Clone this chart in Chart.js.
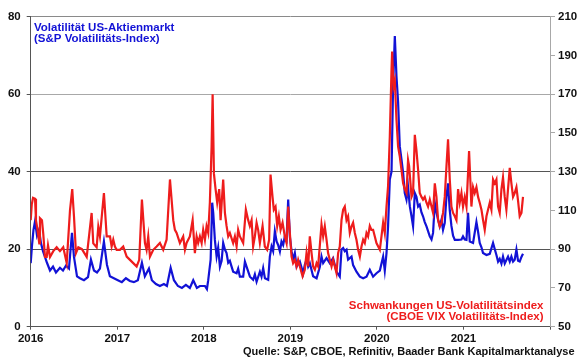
<!DOCTYPE html>
<html><head><meta charset="utf-8">
<script src="https://cdn.jsdelivr.net/npm/chart.js@4/dist/chart.umd.min.js"></script>
<style>html,body{margin:0;padding:0;background:#fff}canvas{display:block}</style>
</head><body>
<canvas id="c" width="580" height="359"></canvas>
<script>
const yearTicks = [2016, 2017, 2018, 2019, 2020, 2021];
const leftTicks = [0, 20, 40, 60, 80];
const rightTicks = [50, 70, 90, 110, 130, 150, 170, 190, 210];

// S&P Volatility Index (VIX) - left axis
const vixDates = [2016.000,2016.015,2016.032,2016.050,2016.073,2016.096,2016.119,2016.142,2016.188,2016.223,2016.258,2016.292,2016.338,2016.373,2016.408,2016.442,2016.477,2016.500,2016.535,2016.569,2016.615,2016.662,2016.696,2016.731,2016.766,2016.800,2016.846,2016.881,2016.915,2016.961,2017.007,2017.053,2017.100,2017.146,2017.192,2017.238,2017.285,2017.319,2017.366,2017.400,2017.447,2017.493,2017.539,2017.574,2017.617,2017.655,2017.701,2017.747,2017.793,2017.839,2017.878,2017.920,2017.955,2018.013,2018.036,2018.051,2018.079,2018.097,2018.109,2018.128,2018.148,2018.166,2018.186,2018.206,2018.224,2018.244,2018.263,2018.282,2018.301,2018.321,2018.339,2018.379,2018.397,2018.417,2018.455,2018.475,2018.494,2018.533,2018.570,2018.590,2018.610,2018.648,2018.667,2018.686,2018.706,2018.744,2018.763,2018.783,2018.801,2018.821,2018.841,2018.859,2018.879,2018.898,2018.917,2018.936,2018.956,2018.975,2018.994,2019.014,2019.032,2019.052,2019.072,2019.110,2019.148,2019.167,2019.187,2019.206,2019.225,2019.263,2019.303,2019.341,2019.360,2019.379,2019.418,2019.456,2019.494,2019.533,2019.571,2019.591,2019.610,2019.629,2019.649,2019.667,2019.707,2019.725,2019.764,2019.803,2019.841,2019.880,2019.918,2019.956,2019.995,2020.034,2020.072,2020.091,2020.111,2020.129,2020.149,2020.169,2020.187,2020.207,2020.226,2020.245,2020.264,2020.284,2020.303,2020.322,2020.342,2020.360,2020.380,2020.400,2020.418,2020.438,2020.457,2020.476,2020.495,2020.515,2020.533,2020.553,2020.573,2020.611,2020.631,2020.649,2020.669,2020.688,2020.707,2020.726,2020.746,2020.764,2020.784,2020.804,2020.822,2020.842,2020.861,2020.880,2020.900,2020.938,2020.977,2020.995,2021.015,2021.035,2021.053,2021.073,2021.111,2021.150,2021.169,2021.188,2021.208,2021.226,2021.266,2021.304,2021.342,2021.362,2021.381,2021.400,2021.419,2021.439,2021.457,2021.477,2021.496,2021.515,2021.535,2021.554,2021.573,2021.592,2021.612,2021.631,2021.650,2021.670,2021.688];
const vixValues = [16.4,21,25,27.2,23.5,25,21.5,19.5,16.5,14.5,15.5,14,15.2,14.5,15.8,15,24.2,18,13,12.5,12,12.8,17.3,14.5,14,15,22,16,13,12.5,12,11.5,12.5,11.8,11.5,12,16.5,13,15,12,11,10.5,11,10.5,15.2,12,10.5,10,10.8,10,12,10,10.5,10.5,9.7,12,17.3,32,29.4,22.4,18.1,20.4,15.5,17,21.6,19.9,19,16.5,17,15.5,14.2,13.8,15,12.9,12.9,16.8,15.5,12.9,12.1,13.5,11.6,14.2,12.9,15.1,12.5,12.1,18.1,20.7,19.5,24.6,22,21.1,19.4,22,21.1,23.3,22.4,32.8,23.3,19.5,17.3,19,15.5,16.8,13.8,16,17.3,15.5,16.4,13,12.5,15.5,18.1,16.4,17.7,16.4,17.7,14.2,12.9,19.9,20.3,19.5,19.9,17.3,18.1,15.9,14.2,12.9,12.5,12.9,14.7,12.9,13.8,14.5,18.1,14.5,19,25.9,38,40,62,75,64.7,57.9,46.6,43.2,39.7,34.5,32.8,36,31.1,28.5,25.9,34.5,33.5,31,31.5,29.5,28.5,27,25.9,23.3,22.5,24.2,32,29.5,27.6,25.9,27.6,25,26.8,33.7,37,30,26,23.5,22.4,22.4,22.5,23.3,22.5,22.4,29.4,22,21.6,27,24.5,21.6,20.5,19,18.5,18.8,21.6,20,18.5,16.8,17.5,16.3,18.1,16.3,17.2,18.1,16.8,18.1,16.8,17.3,19.9,17,16.8,18,18.8];

// CBOE VIX Volatility Index (VVIX) - right axis
const vvixDates = [2016.000,2016.012,2016.027,2016.050,2016.061,2016.079,2016.099,2016.107,2016.130,2016.145,2016.165,2016.185,2016.200,2016.223,2016.261,2016.300,2016.338,2016.376,2016.416,2016.454,2016.480,2016.500,2016.523,2016.550,2016.592,2016.647,2016.704,2016.723,2016.762,2016.781,2016.800,2016.846,2016.878,2016.916,2016.935,2016.954,2016.973,2016.993,2017.031,2017.069,2017.109,2017.147,2017.185,2017.224,2017.254,2017.285,2017.320,2017.339,2017.358,2017.378,2017.416,2017.455,2017.493,2017.531,2017.570,2017.609,2017.628,2017.647,2017.666,2017.686,2017.724,2017.762,2017.782,2017.801,2017.839,2017.871,2017.897,2017.917,2017.935,2017.955,2017.975,2017.993,2018.013,2018.032,2018.051,2018.070,2018.090,2018.102,2018.117,2018.136,2018.155,2018.178,2018.194,2018.224,2018.244,2018.263,2018.282,2018.301,2018.339,2018.359,2018.379,2018.397,2018.417,2018.455,2018.486,2018.513,2018.532,2018.552,2018.570,2018.590,2018.610,2018.628,2018.648,2018.679,2018.705,2018.732,2018.755,2018.771,2018.794,2018.809,2018.829,2018.848,2018.867,2018.887,2018.910,2018.936,2018.956,2018.975,2018.994,2019.014,2019.032,2019.052,2019.072,2019.090,2019.110,2019.141,2019.167,2019.187,2019.206,2019.225,2019.245,2019.263,2019.283,2019.303,2019.321,2019.360,2019.379,2019.398,2019.418,2019.436,2019.456,2019.476,2019.494,2019.514,2019.533,2019.552,2019.571,2019.591,2019.610,2019.629,2019.649,2019.667,2019.687,2019.707,2019.725,2019.745,2019.764,2019.783,2019.803,2019.822,2019.841,2019.860,2019.880,2019.898,2019.918,2019.937,2019.956,2019.976,2019.995,2020.034,2020.072,2020.091,2020.111,2020.129,2020.149,2020.169,2020.176,2020.192,2020.207,2020.226,2020.245,2020.264,2020.284,2020.303,2020.322,2020.342,2020.360,2020.372,2020.388,2020.400,2020.418,2020.438,2020.457,2020.476,2020.495,2020.515,2020.533,2020.553,2020.573,2020.591,2020.611,2020.631,2020.649,2020.669,2020.688,2020.707,2020.726,2020.746,2020.764,2020.784,2020.804,2020.822,2020.842,2020.861,2020.880,2020.900,2020.919,2020.938,2020.957,2020.977,2020.995,2021.015,2021.035,2021.065,2021.081,2021.092,2021.111,2021.130,2021.150,2021.169,2021.188,2021.208,2021.226,2021.246,2021.266,2021.284,2021.304,2021.323,2021.342,2021.362,2021.381,2021.400,2021.419,2021.439,2021.457,2021.477,2021.496,2021.515,2021.535,2021.554,2021.573,2021.592,2021.612,2021.631,2021.650,2021.670,2021.688];
const vvixValues = [105,113,116.5,116,105,100,93,106,105,98,86,86,92,86,89,91,89,91,82.8,110,121,107,88,91,90,86,108.7,93,91,101.6,96.6,119,96.6,96.6,91.4,94.9,91.4,89.7,89.7,91.4,86.2,84.5,82.8,81.1,84.5,115.6,93.2,89.7,96.6,86.2,89.7,91.4,93.2,89.7,94.9,126,115.6,105,100,98.4,93.2,96.6,89.7,93.2,96.6,105,88,96.6,93.2,96.6,93.2,100,94.9,101.8,98.4,114,143,170,129,121,114,121,105,126,108.7,102,96.6,98.4,93.2,96.6,91.4,100,96.6,93.2,110.4,105,102,105,91.4,96.6,103.7,100,93.2,102,91.4,89.7,94.9,128.5,117,110.4,112,102,107,100,103.7,96.6,93.2,112,98.4,86.2,82.8,84.5,81.1,84.5,81.1,76,79.4,88,81.1,96.6,88,81.1,79.4,82.8,81.1,102.7,96.6,101.8,94.9,88,84.5,81.1,84.5,81.1,77.7,88,91.4,105,110.4,112,105,107,98.4,101.8,103.7,98.4,94.9,89.7,86.2,91.4,94.9,93.2,98.4,96.6,102,100,100,96.6,93.2,89.7,103.7,98.4,112,122.5,148,183,192,174,177,157,143,138,131,124,121,119,136,133,124,117,119,149,141,131,119,117,115.6,117,114,112,115.6,112,108.7,124,117,105.2,101.8,103.5,108.7,117,133,146.7,126,112,108.7,107,105,121,114,119,112,117,112,140.6,124,112,122,119,122,117,114,110.4,105.2,100,107,110.4,114,110.4,126,124,126,112,108.7,121,127,117,110.4,121,132,124,117,119,122,115,107,108.7,117];

const FONT = '"Liberation Sans", Arial, Helvetica, sans-serif';
const BLUE = '#1212d6';
const RED = '#ee1c1c';

const textPlugin = {
  id: 'texts',
  afterDraw(chart) {
    const ctx = chart.ctx;
    ctx.save();
    ctx.textBaseline = 'alphabetic';
    ctx.font = 'bold 11.5px ' + FONT;
    ctx.fillStyle = BLUE;
    ctx.textAlign = 'left';
    ctx.fillText('Volatilität US-Aktienmarkt', 34, 30.5);
    ctx.fillText('(S&P Volatilitäts-Index)', 34, 41.5);
    ctx.fillStyle = RED;
    ctx.textAlign = 'right';
    ctx.fillText('Schwankungen US-Volatilitätsindex', 543.5, 308.5);
    ctx.fillText('(CBOE VIX Volatilitäts-Index)', 543.5, 320);
    ctx.font = 'bold 11px ' + FONT;
    ctx.fillStyle = '#111';
    ctx.fillText('Quelle: S&P, CBOE, Refinitiv, Baader Bank Kapitalmarktanalyse', 574.5, 354.5);
    ctx.restore();
  }
};

const gridColor = (v) => v === 60 ? '#a8a8a8' : (v === 80 ? '#8a8a8a' : '#555555');

new Chart(document.getElementById('c'), {
  type: 'line',
  data: {
    datasets: [
      {
        label: 'VVIX',
        data: vvixDates.map((d, i) => ({x: d, y: vvixValues[i]})),
        yAxisID: 'y2',
        borderColor: RED,
        borderWidth: 2.2,
        pointRadius: 0,
        tension: 0,
        fill: false,
        order: 0
      },
      {
        label: 'VIX',
        data: vixDates.map((d, i) => ({x: d, y: vixValues[i]})),
        yAxisID: 'y',
        borderColor: BLUE,
        borderWidth: 2.2,
        pointRadius: 0,
        tension: 0,
        fill: false,
        order: 1
      }
    ]
  },
  options: {
    responsive: false,
    animation: false,
    devicePixelRatio: 1,
    layout: {padding: {top: 16.7, left: 0, right: 0, bottom: 0}},
    plugins: {legend: {display: false}, tooltip: {enabled: false}},
    scales: {
      x: {
        type: 'linear',
        min: 2016, max: 2022,
        afterBuildTicks(s) { s.ticks = yearTicks.concat([2022]).map(v => ({value: v})); },
        afterFit(s) { s.height = 32.3; },
        border: {color: '#555555', width: 1},
        grid: {drawOnChartArea: false, drawTicks: true, tickLength: 3, color: '#555555'},
        ticks: {
          autoSkip: false, maxRotation: 0, padding: 2,
          color: '#111',
          font: {family: FONT, size: 11.5, weight: 'bold'},
          callback: (v) => yearTicks.includes(v) ? String(v) : ''
        }
      },
      y: {
        position: 'left',
        min: 0, max: 80,
        afterBuildTicks(s) { s.ticks = leftTicks.map(v => ({value: v})); },
        afterFit(s) { s.width = 30.7; },
        border: {color: '#555555', width: 1},
        grid: {
          drawOnChartArea: true, drawTicks: true, tickLength: 4,
          color: (c) => gridColor(c.tick ? c.tick.value : 0),
          tickColor: '#555555', lineWidth: 1
        },
        ticks: {padding: 6, color: '#111', font: {family: FONT, size: 11.5, weight: 'bold'}}
      },
      y2: {
        position: 'right',
        min: 50, max: 210,
        afterBuildTicks(s) { s.ticks = rightTicks.map(v => ({value: v})); },
        afterFit(s) { s.width = 30; },
        border: {color: '#a8a8a8', width: 1},
        grid: {drawOnChartArea: false, drawTicks: true, tickLength: 5, color: '#a8a8a8'},
        ticks: {padding: 3, color: '#111', font: {family: FONT, size: 11.5, weight: 'bold'}}
      }
    }
  },
  plugins: [textPlugin]
});
</script>
</body></html>
